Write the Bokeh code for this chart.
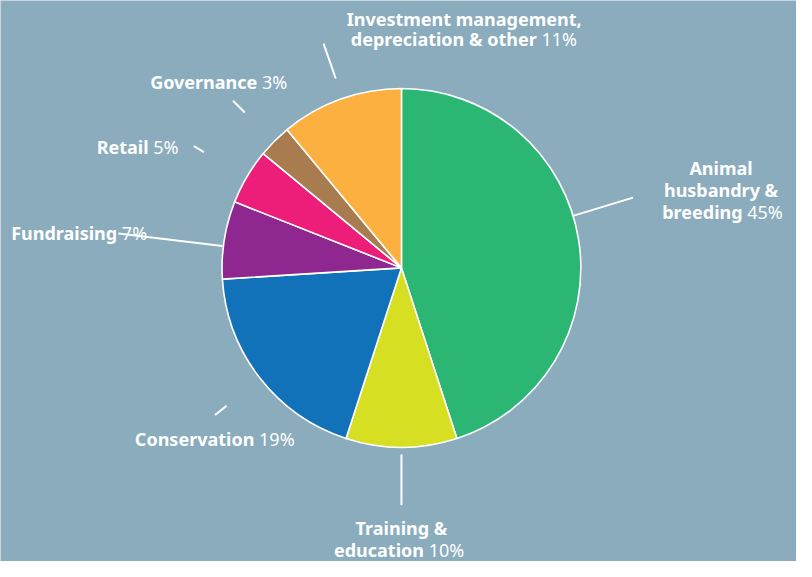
import math
from bokeh.plotting import figure
from bokeh.models import Range1d, ColumnDataSource
from bokeh.embed import file_html
from bokeh.resources import INLINE
from bokeh.core.properties import value

# ---------------- data ----------------
categories = ["Animal husbandry & breeding", "Training & education", "Conservation",
              "Fundraising", "Retail", "Governance",
              "Investment management, depreciation & other"]
shares = [45, 10, 19, 7, 5, 3, 11]
colors = ["#2BB673", "#D7DF23", "#1172BA", "#8E278F", "#ED1E79", "#A97C50", "#FBB040"]

# ---------------- layout ----------------
BG = "#8AACBD"
REF_W, REF_H = 812, 577
W, H = 796, 561
CX, CY_PAGE, R = 409, 275, 183
CY = REF_H - CY_PAGE
FONT = "Noto Sans"
FSIZE = "18px"
TEXT_SHIFT = -8  # screen px, compensates baseline placement

# label lines per category: (text, x, baseline_y, align); last line is followed by the percentage
label_layout = [
    [("Animal", 735, 181, "center"), ("husbandry &", 735, 203, "center"), ("breeding", 757, 226, "right")],
    [("Training &", 409, 551, "center"), ("education", 432, 573, "right")],
    [("Conservation", 259, 459, "right")],
    [("Fundraising", 119, 247, "right")],
    [("Retail", 151, 159, "right")],
    [("Governance", 262, 92, "right")],
    [("Investment management,", 473, 27, "center"), ("depreciation & other", 547, 48, "right")],
]
# leader lines: angle offset from slice middle (deg), inner and outer radius
leader_offset = [-8, 0, -0.7, -2, 0, 0, 0.8]
leader_r0 = [183, 192, 228, 184, 234, 226, 206]
leader_r1 = [247, 244, 243, 291, 246, 243, 244]

p = figure(width=W, height=H, x_range=Range1d(0, REF_W), y_range=Range1d(0, REF_H),
           output_backend="svg", toolbar_location=None, min_border=0)
p.axis.visible = False
p.grid.visible = False
p.outline_line_color = None
p.background_fill_color = BG
p.border_fill_color = BG

# wedges
total = float(sum(shares))
starts, ends, mids = [], [], []
acc = 0.0
for s in shares:
    a0 = acc / total * 2 * math.pi
    acc += s
    a1 = acc / total * 2 * math.pi
    starts.append(math.pi / 2 - a0)
    ends.append(math.pi / 2 - a1)
    mids.append((a0 + a1) / 2)

src = ColumnDataSource(dict(x=[CX] * len(shares), y=[CY] * len(shares),
                            start=starts, end=ends, color=colors, cat=categories))
p.wedge(x="x", y="y", radius=R, start_angle="start", end_angle="end", direction="clock",
        fill_color="color", line_color="white", line_width=1.6, source=src)

# leader lines
x0s, y0s, x1s, y1s = [], [], [], []
for m, off, r0, r1 in zip(mids, leader_offset, leader_r0, leader_r1):
    th = m + math.radians(off)
    x0s.append(CX + r0 * math.sin(th)); y0s.append(CY + r0 * math.cos(th))
    x1s.append(CX + r1 * math.sin(th)); y1s.append(CY + r1 * math.cos(th))
p.segment(x0=x0s, y0=y0s, x1=x1s, y1=y1s, line_color="white", line_width=2)

# labels
groups = {"center": dict(x=[], y=[], t=[]), "right": dict(x=[], y=[], t=[])}
pct = dict(x=[], y=[], t=[])
for lines, s in zip(label_layout, shares):
    for i, (txt, x, yp, al) in enumerate(lines):
        groups[al]["x"].append(x); groups[al]["y"].append(REF_H - yp); groups[al]["t"].append(txt)
        if i == len(lines) - 1:
            pct["x"].append(x); pct["y"].append(REF_H - yp); pct["t"].append(f"\u00a0{s}%")

for al, d in groups.items():
    p.text(x="x", y="y", text="t", source=ColumnDataSource(d), text_align=al,
           text_baseline="alphabetic", text_color="white", text_font=value(FONT),
           text_font_size=FSIZE, text_font_style="bold", y_offset=TEXT_SHIFT)
p.text(x="x", y="y", text="t", source=ColumnDataSource(pct), text_align="left",
       text_baseline="alphabetic", text_color="white", text_font=value(FONT),
       text_font_size=FSIZE, text_font_style="normal", y_offset=TEXT_SHIFT)

open("out.html", "w").write(file_html(p, INLINE))
